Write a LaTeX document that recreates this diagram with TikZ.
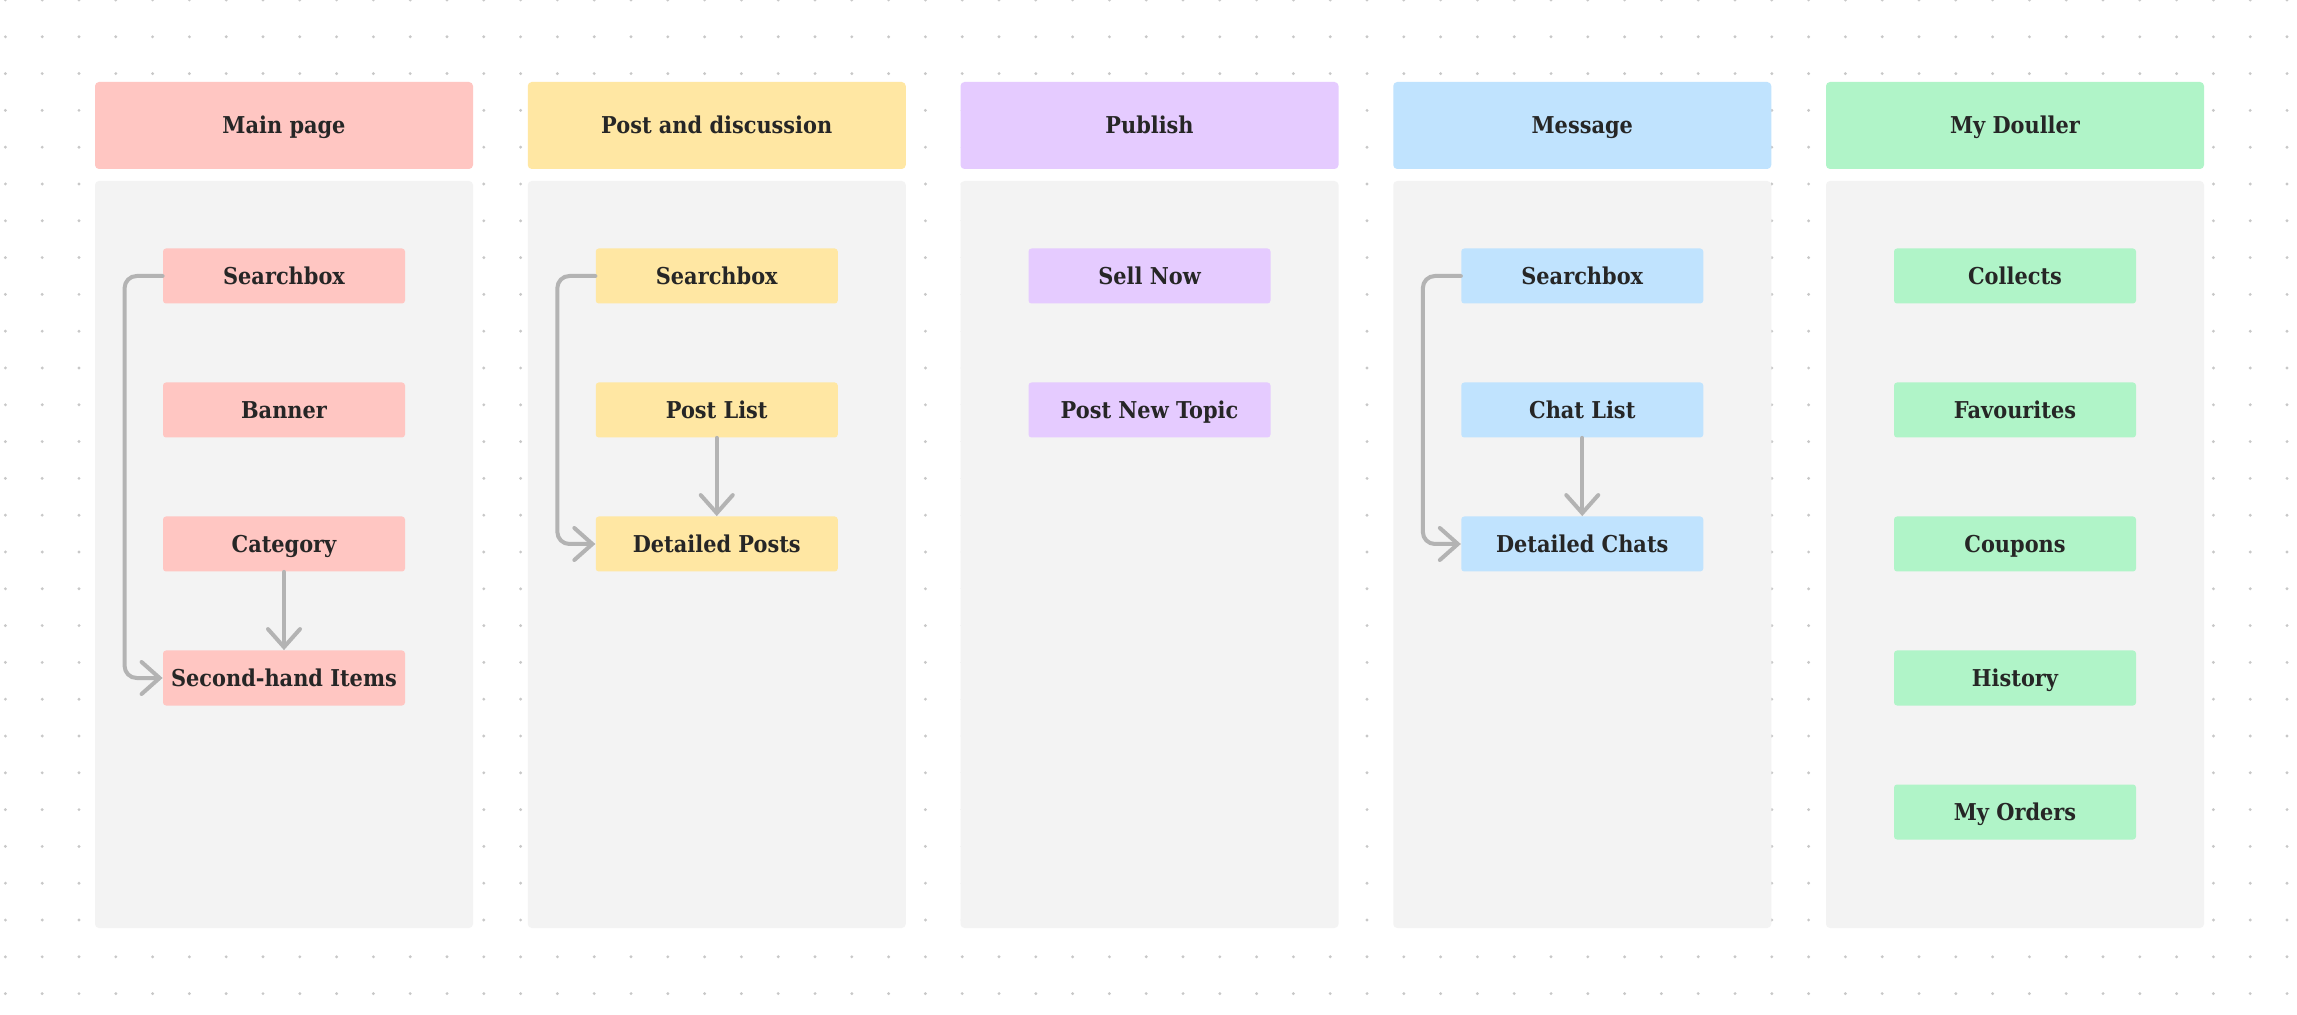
\documentclass[tikz,border=0pt]{standalone}
\usepackage{fontspec}
\setmainfont{DejaVu Serif}[FakeStretch=0.9]
\usetikzlibrary{arrows.meta}
\definecolor{pinkbox}{HTML}{FFC6C2}
\definecolor{yellowbox}{HTML}{FFE7A3}
\definecolor{purplebox}{HTML}{E5CBFF}
\definecolor{bluebox}{HTML}{C0E3FE}
\definecolor{greenbox}{HTML}{B0F4C8}
\definecolor{panelgray}{HTML}{F3F3F3}
\definecolor{dotgray}{HTML}{C8C8C8}
\definecolor{linkgray}{HTML}{B3B3B3}
\definecolor{inkgray}{HTML}{262626}
\tikzset{
  head/.style={fill=#1, rounded corners=2pt, minimum width=189pt, minimum height=43.5pt,
    inner sep=0pt, text height=8.5pt, text depth=0pt, text=inkgray,
    font=\bfseries\fontsize{11.6}{14}\selectfont},
  item/.style={fill=#1, rounded corners=1.5pt, minimum width=121pt, minimum height=27.5pt,
    inner sep=0pt, text height=8.5pt, text depth=0pt, text=inkgray,
    font=\bfseries\fontsize{11.6}{14}\selectfont},
  link/.style={draw=linkgray, line width=2pt, line cap=round, line join=round, rounded corners=6pt,
    -{Straight Barb[length=9pt,width=16pt,line cap=round]}}
}
\begin{document}
\begin{tikzpicture}[x=0.5pt,y=-0.5pt]
\fill [white] (0,0) rectangle (2297,1015);
\useasboundingbox (0,0) rectangle (2297,1015);
% dot grid
\foreach \i in {0,...,62}
  \foreach \j in {0,...,27}
    \fill [dotgray] (5.4+36.8*\i,36.8*\j) circle (0.8pt);
% panels
\foreach \i in {0,...,4}
  \fill [panelgray, rounded corners=2pt] (95+432.75*\i,181) rectangle ++(378,747);
% headers
\node [head=pinkbox] (mainHead) at (284,125.5) {Main page};
\node [head=yellowbox] (postHead) at (716.75,125.5) {Post and discussion};
\node [head=purplebox] (pubHead) at (1149.5,125.5) {Publish};
\node [head=bluebox] (msgHead) at (1582.25,125.5) {Message};
\node [head=greenbox] (myHead) at (2015,125.5) {My Douller};
% main page
\node [item=pinkbox] (mainSearch) at (284,276) {Searchbox};
\node [item=pinkbox] (mainBanner) at (284,410) {Banner};
\node [item=pinkbox] (mainCat) at (284,544) {Category};
\node [item=pinkbox] (mainItems) at (284,678) {Second-hand Items};
% post and discussion
\node [item=yellowbox] (postSearch) at (716.75,276) {Searchbox};
\node [item=yellowbox] (postList) at (716.75,410) {Post List};
\node [item=yellowbox] (postDetail) at (716.75,544) {Detailed Posts};
% publish
\node [item=purplebox] (pubSell) at (1149.5,276) {Sell Now};
\node [item=purplebox] (pubTopic) at (1149.5,410) {Post New Topic};
% message
\node [item=bluebox] (msgSearch) at (1582.25,276) {Searchbox};
\node [item=bluebox] (msgList) at (1582.25,410) {Chat List};
\node [item=bluebox] (msgDetail) at (1582.25,544) {Detailed Chats};
% my douller
\node [item=greenbox] (myCollects) at (2015,276) {Collects};
\node [item=greenbox] (myFav) at (2015,410) {Favourites};
\node [item=greenbox] (myCoupons) at (2015,544) {Coupons};
\node [item=greenbox] (myHistory) at (2015,678) {History};
\node [item=greenbox] (myOrders) at (2015,812) {My Orders};
% links
\draw [link] (mainSearch.west) -- ++(-38,0) |- (mainItems.west);
\draw [link] (mainCat.south) -- (mainItems.north);
\draw [link] (postSearch.west) -- ++(-38,0) |- (postDetail.west);
\draw [link] (postList.south) -- (postDetail.north);
\draw [link] (msgSearch.west) -- ++(-38,0) |- (msgDetail.west);
\draw [link] (msgList.south) -- (msgDetail.north);
\end{tikzpicture}
\end{document}
